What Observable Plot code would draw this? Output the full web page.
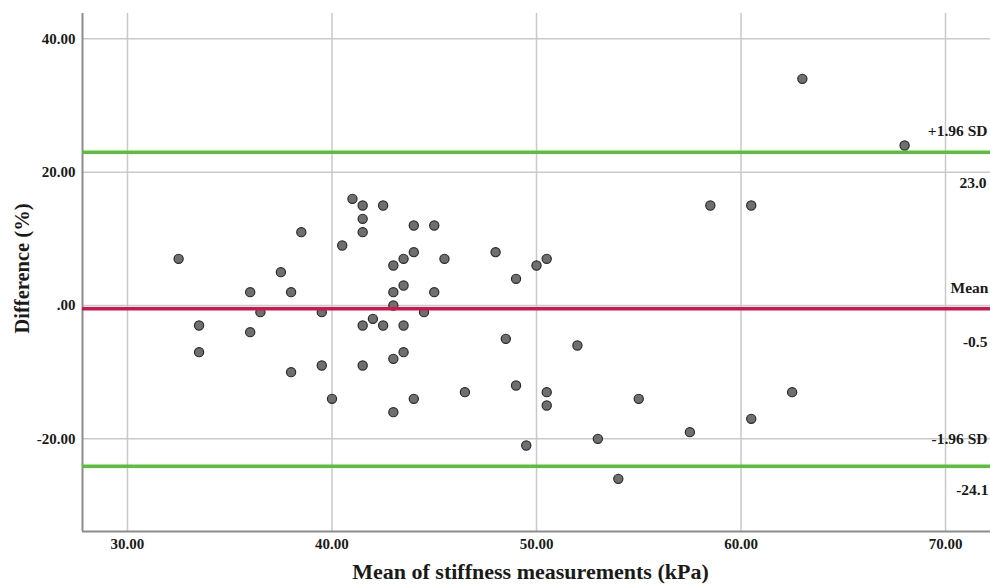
<!DOCTYPE html>
<html>
<head>
<meta charset="utf-8">
<script src="https://cdn.jsdelivr.net/npm/d3@7"></script>
<script src="https://cdn.jsdelivr.net/npm/@observablehq/plot@0.6"></script>
<style>
  html, body { margin: 0; padding: 0; background: #fff; }
  #chart svg { display: block; }
</style>
</head>
<body>
<div id="chart"></div>
<script>
// Mean of the two stiffness measurements (kPa)
const meanStiffness = [
  32.5, 33.5, 33.5, 36, 36, 36.5, 37.5, 38, 38, 38.5,
  39.5, 39.5, 40, 40.5, 41, 41.5, 41.5, 41.5, 41.5, 41.5,
  42, 42.5, 42.5, 43, 43, 43, 43, 43, 43.5, 43.5,
  43.5, 43.5, 44, 44, 44, 44.5, 45, 45, 45.5, 46.5,
  48, 48.5, 49, 49, 49.5, 50, 50.5, 50.5, 50.5, 52,
  53, 54, 55, 57.5, 58.5, 60.5, 60.5, 62.5, 63, 68
];
// Difference (%)
const differencePct = [
  7, -3, -7, 2, -4, -1, 5, 2, -10, 11,
  -1, -9, -14, 9, 16, 15, 13, 11, -3, -9,
  -2, 15, -3, 6, 2, 0, -8, -16, 7, 3,
  -3, -7, 12, 8, -14, -1, 12, 2, 7, -13,
  8, -5, 4, -12, -21, 6, 7, -13, -15, -6,
  -20, -26, -14, -19, 15, 15, -17, -13, 34, 24
];
const meanDiff = -0.5;
const upperLoA = 23.0;
const lowerLoA = -24.1;
const xTicks = [30, 40, 50, 60, 70];
const yTicks = [-20, 0, 20, 40];
const xDomain = [27.8, 72.2];
const yDomain = [-33.9, 43.8];

const points = meanStiffness.map((m, i) => ({m, d: differencePct[i]}));

const serif = "'Liberation Serif', 'DejaVu Serif', serif";
const fmt = d => d === 0 ? ".00" : d.toFixed(2);
const lbl = {textAnchor: "end", fontSize: 15.5, fontWeight: "bold", fontFamily: serif, fill: "#1a1a1a"};

const chart = Plot.plot({
  width: 990,
  height: 586,
  marginLeft: 82,
  marginRight: 0,
  marginTop: 13,
  marginBottom: 55,
  style: {fontFamily: serif, background: "#fff", color: "#1a1a1a"},
  x: {domain: xDomain},
  y: {domain: yDomain},
  marks: [
    Plot.gridX(xTicks, {stroke: "#c9c9c9", strokeOpacity: 1, strokeWidth: 1.5}),
    Plot.gridY(yTicks, {stroke: "#c9c9c9", strokeOpacity: 1, strokeWidth: 1.5}),
    Plot.axisX(xTicks, {tickSize: 0, tickPadding: 7, tickFormat: fmt, label: null,
      fontSize: 15, fontWeight: "bold", fontFamily: serif}),
    Plot.axisY(yTicks, {tickSize: 0, tickPadding: 7, tickFormat: fmt, label: null,
      fontSize: 15, fontWeight: "bold", fontFamily: serif}),
    Plot.ruleX([xDomain[0]], {stroke: "#8c8c8c", strokeWidth: 2}),
    Plot.ruleY([yDomain[0]], {stroke: "#8c8c8c", strokeWidth: 2}),
    Plot.dot(points, {x: "m", y: "d", r: 4.6, fill: "#6f6f6f", stroke: "#2a2a2a", strokeWidth: 1.2}),
    Plot.ruleY([upperLoA], {stroke: "#5cbf3a", strokeWidth: 3.5}),
    Plot.ruleY([lowerLoA], {stroke: "#5cbf3a", strokeWidth: 3.5}),
    Plot.ruleY([meanDiff], {stroke: "#d2164b", strokeWidth: 3.5}),
    // right-hand labels
    Plot.text(["+1.96 SD"], {...lbl, x: xDomain[1], y: upperLoA, text: d => d, dx: -3, dy: -21}),
    Plot.text([upperLoA.toFixed(1)], {...lbl, x: xDomain[1], y: upperLoA, text: d => d, dx: -4, dy: 31}),
    Plot.text(["Mean"], {...lbl, x: xDomain[1], y: meanDiff, text: d => d, dx: -2, dy: -21}),
    Plot.text([meanDiff.toFixed(1)], {...lbl, x: xDomain[1], y: meanDiff, text: d => d, dx: -3, dy: 33}),
    Plot.text(["-1.96 SD"], {...lbl, x: xDomain[1], y: lowerLoA, text: d => d, dx: -3, dy: -27}),
    Plot.text([lowerLoA.toFixed(1)], {...lbl, x: xDomain[1], y: lowerLoA, text: d => d, dx: -2, dy: 24}),
    // axis titles
    Plot.text(["Mean of stiffness measurements (kPa)"], {frameAnchor: "bottom", textAnchor: "middle", lineAnchor: "middle",
      text: d => d, dx: -6, dy: 40, fontSize: 22, fontWeight: "bold", fontFamily: serif, fill: "#1a1a1a"}),
    Plot.text(["Difference (%)"], {frameAnchor: "left", textAnchor: "middle", lineAnchor: "middle",
      text: d => d, rotate: -90, dx: -60, dy: -4, fontSize: 20.5, fontWeight: "bold", fontFamily: serif, fill: "#1a1a1a"})
  ]
});
document.getElementById("chart").appendChild(chart);
</script>
</body>
</html>
